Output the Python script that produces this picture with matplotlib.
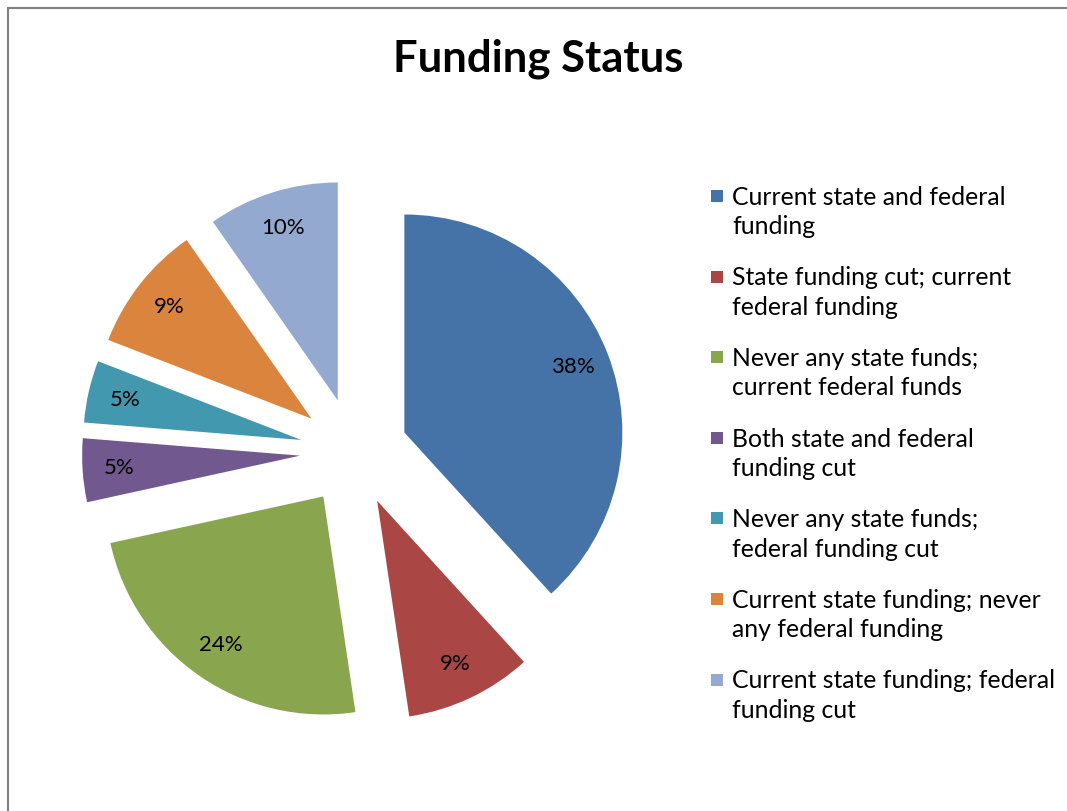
import matplotlib.pyplot as plt
from matplotlib.patches import Rectangle

plt.rcParams['font.family'] = ['Lato', 'DejaVu Sans']

categories = [
    "Current state and federal\nfunding",
    "State funding cut; current\nfederal funding",
    "Never any state funds;\ncurrent federal funds",
    "Both state and federal\nfunding cut",
    "Never any state funds;\nfederal funding cut",
    "Current state funding; never\nany federal funding",
    "Current state funding; federal\nfunding cut",
]
shares = [38.2, 9.4, 23.9, 4.7, 4.6, 9.4, 9.7]
colors = ["#4572A7", "#AA4643", "#89A54E", "#71588F", "#4198AF", "#DB843D", "#93A9CF"]

W, H = 1067, 811
fig = plt.figure(figsize=(W / 100, H / 100), dpi=100)
ax = fig.add_axes([0, 0, 1, 1])

# chart frame, only left and top edges are visible
fig.patches.append(Rectangle((8 / W, -0.1), 1.2, 1.1 - 8 / H, transform=fig.transFigure,
                             fill=False, edgecolor='#808080', linewidth=1.5))

# explode is in data units here (pixels)
wedges, texts, autotexts = ax.pie(
    shares, colors=colors, startangle=90, counterclock=False,
    center=(354, H - 452), radius=218, explode=[54] * len(shares),
    autopct=lambda p: '%.0f%%' % p, pctdistance=0.83, frame=True,
    textprops=dict(fontsize=16, color='black'),
    wedgeprops=dict(linewidth=0))
ax.set_xlim(0, W)
ax.set_ylim(0, H)
ax.set_aspect('equal')
ax.axis('off')

fig.text(538 / W, 1 - 59 / H, "Funding Status", ha='center', va='center',
         fontsize=31.4, fontweight='bold')

# legend drawn by hand to keep the two-line spacing of the original
for i, (lab, col) in enumerate(zip(categories, colors)):
    y = 196 + i * 80.6
    fig.patches.append(Rectangle((711 / W, 1 - (y + 6) / H), 12 / W, 12 / H,
                                 transform=fig.transFigure, facecolor=col, edgecolor='none'))
    fig.text(732 / W, 1 - (y + 16) / H, lab, ha='left', va='center', fontsize=17.8,
             linespacing=1.33)

fig.savefig("out.png", dpi=100)
